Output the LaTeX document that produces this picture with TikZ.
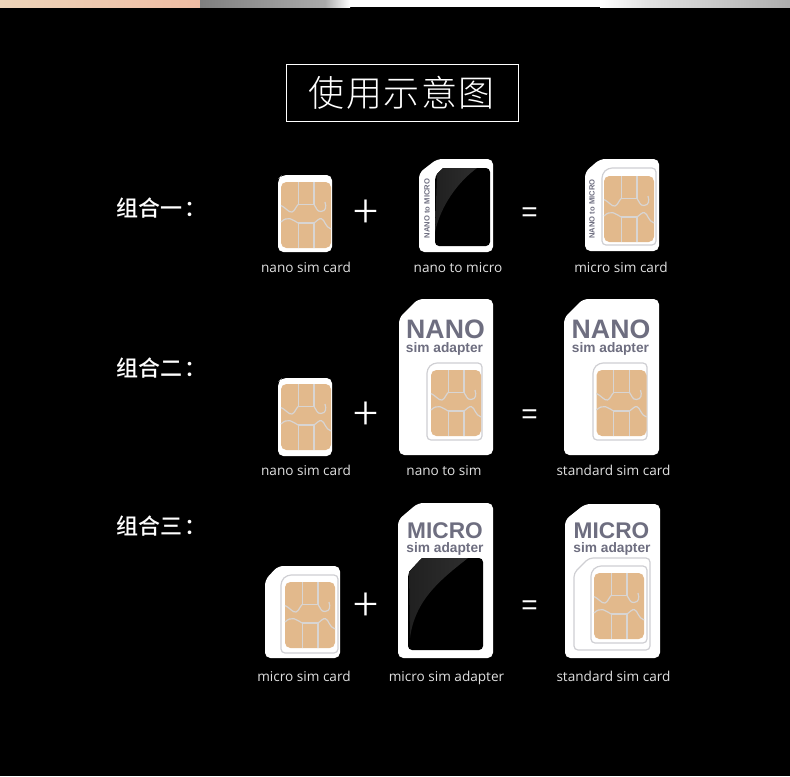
\documentclass[tikz,border=0pt]{standalone}
\usepackage{fontspec}
\setmainfont{Open Sans}
\newfontfamily\cjk{Noto Sans CJK SC Medium}
\newfontfamily\cjklight{Noto Sans CJK SC Light}
\newfontfamily\titlecjk[LetterSpace=4]{Noto Sans CJK SC Light}
\newfontfamily\arial{Liberation Sans}
\usepackage{tikz}
\usetikzlibrary{positioning}
\definecolor{SIMtan}{HTML}{E2B98C}
\definecolor{SIMline}{HTML}{D8D5D3}
\definecolor{SIMslot}{HTML}{CFCFD3}
\definecolor{SIMink}{HTML}{6E6E80}
\definecolor{SIMgloss}{HTML}{2E2E2E}
\tikzset{
    simcard/.style={fill=white, rounded corners=4pt},
    simwindow/.style={fill=black, rounded corners=3pt},
    simgloss/.style={left color=SIMgloss!70!black, right color=SIMgloss},
    simslot/.style={draw=SIMslot, line width=0.9pt, rounded corners=3pt},
    caption/.style={text=white!88!black, font=\fontsize{10.2pt}{12pt}\selectfont, inner sep=0pt, anchor=base},
    rowlabel/.style={text=white, font=\cjk\fontsize{16.5pt}{20pt}\selectfont, inner sep=0pt, anchor=west},
    bigword/.style={text=SIMink, font=\arial\bfseries\fontsize{20pt}{24pt}\selectfont, inner sep=0pt, anchor=base},
    microword/.style={text=SIMink, font=\arial\bfseries\fontsize{17pt}{20pt}\selectfont, inner sep=0pt, anchor=base},
    adapterword/.style={text=SIMink, font=\arial\bfseries\fontsize{10.3pt}{13pt}\selectfont, inner sep=0pt, anchor=base},
    sideword/.style={text=SIMink, font=\arial\bfseries\fontsize{5.7pt}{7pt}\selectfont, inner sep=0pt, rotate=90},
    plussign/.style={text=white, font=\cjklight\fontsize{35pt}{40pt}\selectfont, inner sep=0pt},
    equalsign/.style={text=white, font=\arial\fontsize{21pt}{24pt}\selectfont, inner sep=0pt},
    pics/simchip/.style={code={
        \fill[SIMtan, rounded corners=4pt] (0,0) rectangle (50,66);
        \draw[SIMline, line width=0.9pt] (17.3,0) -- (17.3,22.5) -- (33,22.5) -- (33,0);
        \draw[SIMline, line width=0.9pt] (17.3,66) -- (17.3,41) -- (33,41) -- (33,66);
        \draw[SIMline, line width=0.9pt] (0,23.5) .. controls (4,25) and (8,31) .. (11,30) .. controls (14,29) and (15,24) .. (17.3,22.5);
        \draw[SIMline, line width=0.9pt] (33,22.5) .. controls (35,25) and (36,30) .. (40,29.5) .. controls (45,29) and (45.5,25) .. (44,20);
        \draw[SIMline, line width=0.9pt] (0,40) .. controls (3,37) and (6,36) .. (9,36.7) .. controls (12,37.5) and (15,40) .. (17.3,41);
        \draw[SIMline, line width=0.9pt] (33,41) .. controls (36,39) and (38,36) .. (40.5,36.7) .. controls (44,38) and (44,45) .. (50,47);
    }},
}

\begin{document}
\begin{tikzpicture}[x=0.75pt, y=-0.75pt]
    \useasboundingbox (0,0) rectangle (790,776);
    \fill[black] (0,0) rectangle (790,776);
    % strip of photo along the top
    \shade[left color=SIMtan!60!white, right color=SIMtan!55!pink] (0,0) rectangle (200,7);
    \shade[left color=black!50, right color=black!33] (200,0) rectangle (325,7);
    \shade[left color=black!33, right color=white] (325,0) rectangle (350,7);
    \fill[white] (350,0) rectangle (600,7);
    \shade[left color=white, right color=black!12] (600,0) rectangle (650,7);
    \shade[left color=black!12, right color=black!32] (650,0) rectangle (790,7);
    % title
    \node[draw=white, line width=0.75pt, minimum width=174pt, minimum height=43pt, inner sep=0pt,
        text=white, font=\titlecjk\fontsize{27pt}{30pt}\selectfont] (title) at (402.5,93) {\hspace{-1pt}使用示意图};
    \node[rowlabel] (rowone) at (116,208) {组合一\hspace{2pt}：};
    \node[rowlabel] (rowtwo) at (116,368) {组合二\hspace{2pt}：};
    \node[rowlabel] (rowthree) at (116,526) {组合三\hspace{2pt}：};

    % first row
    \fill[simcard] (278,179) -- (282,175) -- (332,175) -- (332,252) -- (278,252) -- cycle;
    \pic at (281,182) {simchip};
    \node[plussign] (plusone) at (365.5,214) {+};
    \fill[simcard] (419,173) -- (437,159) -- (493,159) -- (493,252) -- (419,252) -- cycle;
    \fill[simwindow] (435,176) -- (443,168) -- (490,168) -- (490,246) -- (435,246) -- cycle;
    \fill[simgloss] (437,174) -- (443,168) -- (477,168) .. controls (458,182) and (441,205) .. (435,232) -- cycle;
    \node[sideword] (sideone) at (427,208.5) {NANO to MICRO};
    \node[equalsign] (equalone) at (529.5,215) {=};
    \fill[simcard] (585,172) -- (600,159) -- (659,159) -- (659,251) -- (585,251) -- cycle;
    \draw[simslot] (602,174) -- (608,168) -- (656,168) -- (656,245) -- (602,245) -- cycle;
    \pic at (604,176) {simchip};
    \node[sideword] (sidetwo) at (592,209) {NANO to MICRO};
    \node[caption] (capnano) at (306,272.5) {nano sim card};
    \node[caption] (capadapter) at (458,272.5) {nano to micro};
    \node[caption] (capmicro) at (621,272.5) {micro sim card};

    % second row
    \fill[simcard] (278,382) -- (282,378) -- (332,378) -- (332,456) -- (278,456) -- cycle;
    \pic at (281,384) {simchip};
    \node[plussign] (plustwo) at (365.5,416) {+};
    \fill[simcard] (399,318) -- (418,299) -- (493,299) -- (493,455) -- (399,455) -- cycle;
    \node[bigword] (nanoleft) at (445.5,338) {NANO};
    \node[adapterword] (simleft) at (444.5,352.5) {sim adapter};
    \draw[simslot] (427,369) -- (433,363) -- (482,363) -- (482,440) -- (427,440) -- cycle;
    \pic at (431,370) {simchip};
    \node[equalsign] (equaltwo) at (529.5,417) {=};
    \fill[simcard] (564,318) -- (583,299) -- (659,299) -- (659,455) -- (564,455) -- cycle;
    \node[bigword] (nanoright) at (611,338) {NANO};
    \node[adapterword] (simright) at (610.5,352.5) {sim adapter};
    \draw[simslot] (593,369) -- (599,363) -- (647,363) -- (647,440) -- (593,440) -- cycle;
    \pic at (596.5,370) {simchip};
    \node[caption] (capnanotwo) at (306,475.5) {nano sim card};
    \node[caption] (capsim) at (444,475.5) {nano to sim};
    \node[caption] (capstandard) at (613.5,475.5) {standard sim card};

    % third row
    \fill[simcard] (265,580) -- (278,566) -- (340,566) -- (340,658) -- (265,658) -- cycle;
    \draw[simslot] (281,581) -- (287,575) -- (338,575) -- (338,653) -- (281,653) -- cycle;
    \pic at (285,582) {simchip};
    \node[plussign] (plusthree) at (365.5,607) {+};
    \fill[simcard] (398,520) -- (418,503) -- (493,503) -- (493,658) -- (398,658) -- cycle;
    \node[microword] (microleft) at (445,538) {MICRO};
    \node[adapterword] (simleftb) at (445,552.5) {sim adapter};
    \fill[simwindow] (408,573) -- (422,558) -- (483,558) -- (483,650) -- (408,650) -- cycle;
    \fill[simgloss] (409,572) -- (422,558) -- (468,558) .. controls (440,580) and (415,600) .. (410,638) -- cycle;
    \node[equalsign] (equalthree) at (529.5,608) {=};
    \fill[simcard] (565,520) -- (585,504) -- (660,504) -- (660,658) -- (565,658) -- cycle;
    \node[microword] (microright) at (611.5,538) {MICRO};
    \node[adapterword] (simrightb) at (612,552) {sim adapter};
    \draw[simslot] (574,573) -- (589,558) -- (650,558) -- (650,650) -- (574,650) -- cycle;
    \draw[simslot] (591,572) -- (597,566) -- (647,566) -- (647,643) -- (591,643) -- cycle;
    \pic at (594,573) {simchip};
    \node[caption] (capmicrotwo) at (304,681.5) {micro sim card};
    \node[caption] (capmicroad) at (446.5,681.5) {micro sim adapter};
    \node[caption] (capstandardtwo) at (613.5,681.5) {standard sim card};
\end{tikzpicture}
\end{document}
